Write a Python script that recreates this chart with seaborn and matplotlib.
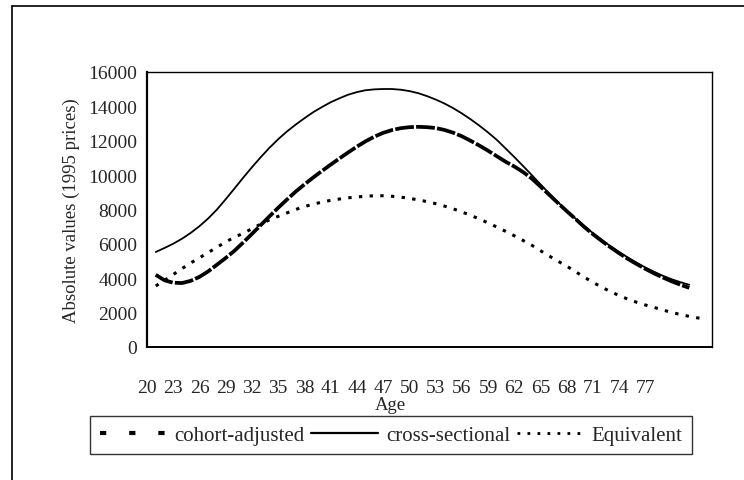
import matplotlib
matplotlib.use("Agg")
import matplotlib.pyplot as plt
from matplotlib.lines import Line2D
import seaborn as sns
import numpy as np
import pandas as pd

# ages 21..82 for the two income curves, 21..84 for the equivalent one
ages_main = list(range(21, 83))
ages_equiv = list(range(21, 85))

cross_sectional = [
    5530, 5760, 6010, 6300, 6640, 7030, 7480, 8000, 8600, 9220,
    9850, 10460, 11040, 11590, 12090, 12540, 12940, 13310, 13660, 13960,
    14240, 14470, 14680, 14830, 14940, 14990, 15010, 15010, 14970, 14890,
    14770, 14600, 14400, 14170, 13900, 13590, 13250, 12880, 12480, 12050,
    11550, 11050, 10530, 10000, 9460, 8930, 8420, 7930, 7470, 7040,
    6620, 6230, 5860, 5520, 5200, 4900, 4620, 4370, 4140, 3940,
    3770, 3620,
]

cohort_adjusted = [
    4200, 3880, 3740, 3720, 3850, 4080, 4400, 4790, 5180, 5600,
    6080, 6580, 7090, 7600, 8100, 8580, 9040, 9460, 9860, 10240,
    10610, 10970, 11320, 11660, 11970, 12240, 12460, 12620, 12730, 12790,
    12810, 12790, 12740, 12630, 12470, 12260, 12000, 11720, 11420, 11100,
    10780, 10500, 10180, 9800, 9330, 8850, 8370, 7900, 7450, 6980,
    6560, 6170, 5800, 5450, 5120, 4820, 4540, 4280, 4040, 3820,
    3620, 3440,
]

equivalent = [
    3550, 3880, 4220, 4560, 4890, 5190, 5500, 5800, 6120, 6380,
    6620, 6880, 7150, 7400, 7600, 7800, 8000, 8170, 8310, 8430,
    8530, 8610, 8680, 8730, 8770, 8800, 8800, 8770, 8720, 8650,
    8560, 8460, 8340, 8200, 8040, 7860, 7660, 7450, 7220, 6980,
    6730, 6470, 6200, 5920, 5600, 5290, 4990, 4700, 4380, 4060,
    3760, 3480, 3220, 2990, 2780, 2600, 2440, 2300, 2150, 2010,
    1890, 1780, 1690, 1620,
]

age_ticks = list(range(20, 85))
age_labels = [str(a) if (a - 20) % 3 == 0 and a <= 77 else "" for a in age_ticks]
y_ticks = [0, 2000, 4000, 6000, 8000, 10000, 12000, 14000, 16000]

df_main = pd.DataFrame({"age": ages_main, "cohort": cohort_adjusted, "cross": cross_sectional})
df_eq = pd.DataFrame({"age": ages_equiv, "equiv": equivalent})

sns.set_style("white")
plt.rcParams["font.family"] = ["Liberation Serif", "DejaVu Serif"]

fig = plt.figure(figsize=(7.44, 4.81), dpi=100)
ax = fig.add_axes([147 / 744, 1 - 348 / 481, 565 / 744, 275 / 481])

sns.lineplot(data=df_eq, x="age", y="equiv", ax=ax, color="black", linewidth=2.2)
ax.lines[-1].set_dashes((1.1, 2.4))
sns.lineplot(data=df_main, x="age", y="cross", ax=ax, color="black", linewidth=1.3)
sns.lineplot(data=df_main, x="age", y="cohort", ax=ax, color="black", linewidth=2.7)
ax.lines[-1].set_dashes((5, 0.6))

ax.set_xlim(20, 84.6)
ax.set_ylim(0, 16000)
ax.set_xticks(age_ticks)
ax.set_xticklabels(age_labels)
ax.set_yticks(y_ticks)
ax.tick_params(axis="x", direction="out", length=3, width=1, pad=20, labelsize=14, color="black")
ax.tick_params(axis="y", direction="out", length=3, width=1, pad=4, labelsize=14, color="black")
ax.set_xlabel("Age", fontsize=13.5)
ax.xaxis.set_label_coords(0.43, -0.18)
ax.set_ylabel("Absolute values (1995 prices)", fontsize=13.5, labelpad=6)
for side, sp in ax.spines.items():
    sp.set_visible(True)
    sp.set_color("black")
    sp.set_linewidth(1.0)
ax.spines["left"].set_linewidth(1.6)
ax.spines["bottom"].set_linewidth(1.4)

handles = [
    Line2D([], [], color="black", linewidth=3, dashes=(1.5, 5.5)),
    Line2D([], [], color="black", linewidth=1.6),
    Line2D([], [], color="black", linewidth=2, dashes=(1, 2.6)),
]
leg = fig.legend(handles, ["cohort-adjusted", "cross-sectional", "Equivalent"],
                 loc="center", bbox_to_anchor=(391 / 744, 1 - 436 / 481), ncol=3,
                 frameon=True, fancybox=False, fontsize=15, handlelength=3.2,
                 handletextpad=0.4, columnspacing=0.3, borderpad=0.45)
leg.get_frame().set_edgecolor("black")
leg.get_frame().set_linewidth(1.0)

# outer frame of the scanned figure (left and top edges only)
fig.add_artist(Line2D([12 / 744, 12 / 744], [0, 1 - 7 / 481], color="black", linewidth=1.2))
fig.add_artist(Line2D([12 / 744, 1], [1 - 7 / 481, 1 - 7 / 481], color="black", linewidth=1.2))

fig.savefig("out.png", dpi=100, facecolor="white")
